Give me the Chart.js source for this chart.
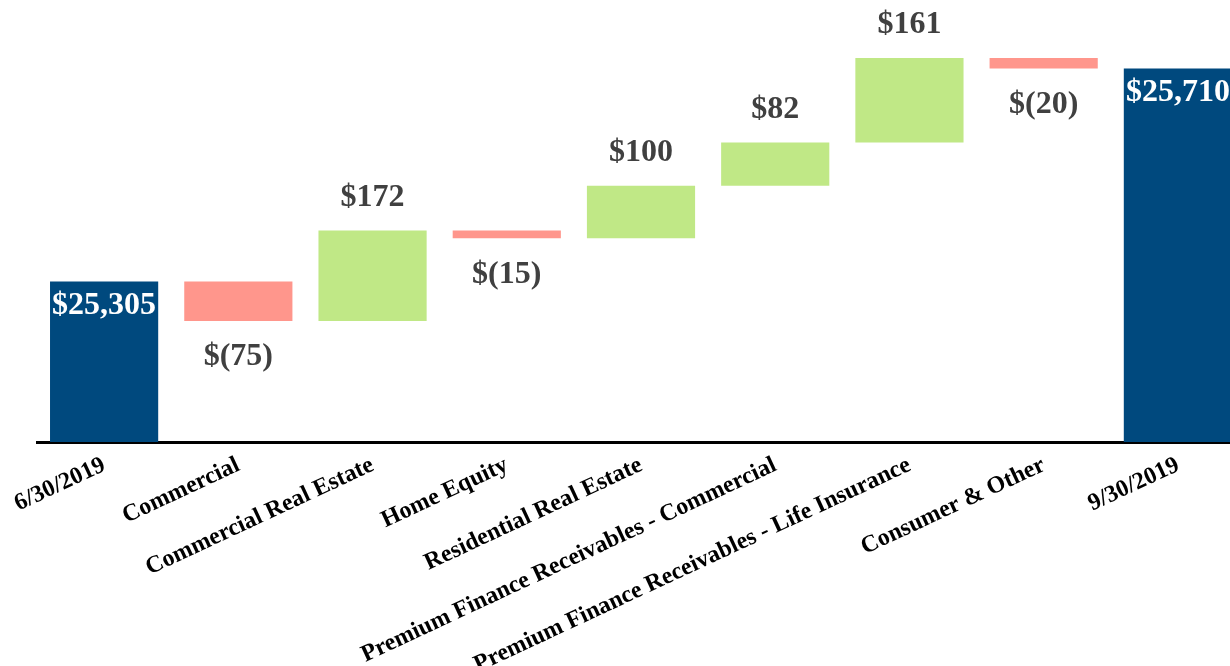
<!DOCTYPE html>
<html>
<head>
<meta charset="utf-8">
<script src="https://cdn.jsdelivr.net/npm/chart.js@4/dist/chart.umd.min.js"></script>
<style>
  html, body { margin: 0; padding: 0; background: #fff; overflow: hidden; }
  #wrap { width: 1230px; height: 666px; overflow: hidden; }
</style>
</head>
<body>
<div id="wrap"><canvas id="grafico" width="1245" height="666"></canvas></div>
<script>
// waterfall 6/30/2019 -> 9/30/2019

var categorie = ['6/30/2019', 'Commercial', 'Commercial Real Estate', 'Home Equity',
    'Residential Real Estate', 'Premium Finance Receivables - Commercial',
    'Premium Finance Receivables - Life Insurance', 'Consumer & Other', '9/30/2019'];
var totaleIniziale = 25305;
var variazioni = [-75, 172, -15, 100, 82, 161, -20];
var totaleFinale = 25710;
var asseMin = 25000;
var asseMax = 25840;

var blu = '#00497e';
var verde = '#c0e886';
var rosso = '#ff968c';

// costruisco le barre flottanti
var barre = [totaleIniziale];
var colori = [blu];
var cumulato = totaleIniziale;
for (var i = 0; i < variazioni.length; i++) {
    var prossimo = cumulato + variazioni[i];
    barre.push([cumulato, prossimo]);
    colori.push(variazioni[i] >= 0 ? verde : rosso);
    cumulato = prossimo;
}
barre.push(totaleFinale);
colori.push(blu);

function formatta(v) {
    var s = Math.abs(v).toLocaleString('en-US');
    return v < 0 ? '$(' + s + ')' : '$' + s;
}

var etichette = {
    id: 'etichette',
    afterDatasetsDraw: function (chart) {
        var ctx = chart.ctx;
        var meta = chart.getDatasetMeta(0);
        ctx.save();
        ctx.font = 'bold 32px "Liberation Serif", "Times New Roman", serif';
        ctx.textAlign = 'center';
        ctx.textBaseline = 'middle';
        meta.data.forEach(function (bar, idx) {
            var top = Math.min(bar.y, bar.base);
            var bottom = Math.max(bar.y, bar.base);
            if (idx === 0 || idx === meta.data.length - 1) {
                var tot = idx === 0 ? totaleIniziale : totaleFinale;
                ctx.fillStyle = '#ffffff';
                ctx.fillText(formatta(tot), bar.x, top + 24);
            } else {
                var v = variazioni[idx - 1];
                ctx.fillStyle = '#404040';
                if (v >= 0) ctx.fillText(formatta(v), bar.x, top - 33);
                else ctx.fillText(formatta(v), bar.x, bottom + 36);
            }
        });
        ctx.restore();
    }
};

var ctx = document.getElementById('grafico').getContext('2d');
var chart = new Chart(ctx, {
    type: 'bar',
    data: {
        labels: categorie,
        datasets: [{
            data: barre,
            backgroundColor: colori,
            borderWidth: 0,
            categoryPercentage: 1,
            barPercentage: 0.806
        }]
    },
    options: {
        responsive: false,
        animation: false,
        layout: { padding: { left: 37, right: 0, top: 0, bottom: 0 } },
        plugins: { legend: { display: false }, tooltip: { enabled: false } },
        scales: {
            x: {
                grid: { display: false, drawTicks: false },
                border: { display: true, color: '#000', width: 3 },
                ticks: {
                    color: '#000',
                    autoSkip: false,
                    maxRotation: 25,
                    minRotation: 25,
                    padding: 9,
                    font: { family: '"Liberation Serif", "Times New Roman", serif', size: 24, weight: 'bold' }
                },
                afterFit: function (scale) {
                    scale.height = 224;
                    scale.paddingLeft = 0;
                    scale.paddingRight = 0;
                }
            },
            y: {
                display: false,
                min: asseMin,
                max: asseMax
            }
        }
    },
    plugins: [etichette]
});
</script>
</body>
</html>
